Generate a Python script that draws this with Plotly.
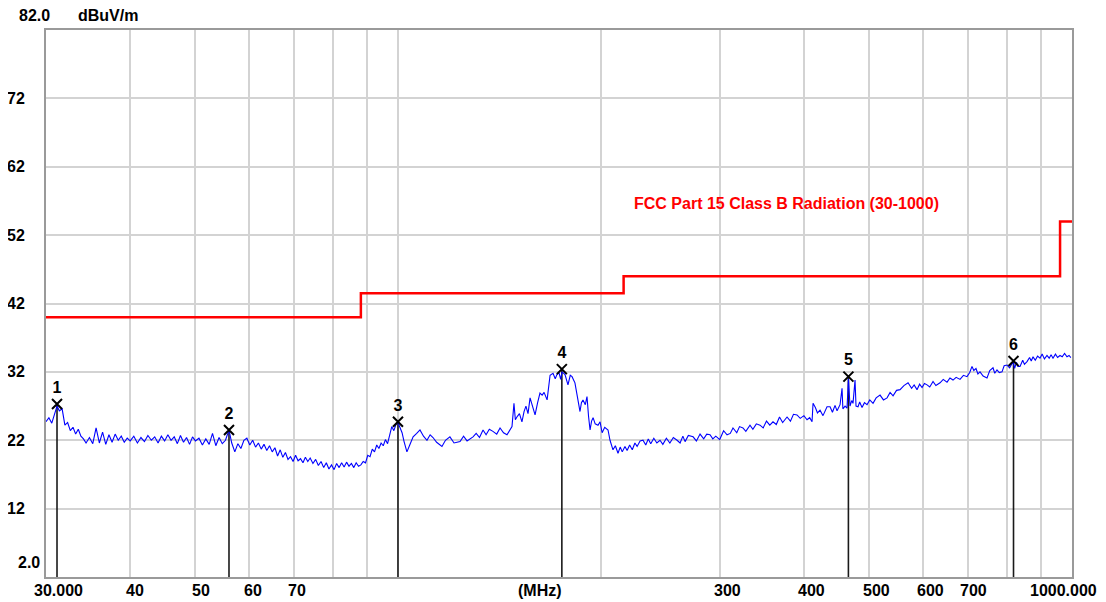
import math
import plotly.graph_objects as go

# ---------------- data ----------------
freq_mhz = [
    30.0, 30.3, 30.6, 30.9, 31.15, 31.4, 31.7, 32.0, 32.3, 32.6, 32.9, 33.2, 33.5, 33.8, 34.1, 34.4,
    34.8, 35.2, 35.6, 36.0, 36.4, 36.8, 37.2, 37.6, 38.0, 38.4, 38.8, 39.2, 39.6, 40.0, 40.5, 41.0,
    41.5, 42.0, 42.5, 43.0, 43.5, 44.0, 44.5, 45.0, 45.5, 46.0, 46.5, 47.0, 47.5, 48.0, 48.5, 49.0,
    49.5, 50.0, 50.6, 51.2, 51.8, 52.4, 53.0, 53.6, 54.2, 54.8, 55.4, 56.07,
    56.6, 57.2, 57.8, 58.4, 59.0, 59.6, 60.2, 60.8, 61.4, 62.0, 62.6, 63.2, 63.8, 64.4, 65.0, 65.6,
    66.2, 66.8, 67.4, 68.0, 68.6, 69.2, 69.8, 70.4, 71.0, 71.6, 72.2, 72.8, 73.4, 74.0, 74.7, 75.4,
    76.1, 76.8, 77.5, 78.2, 78.9, 79.6, 80.3, 81.0, 81.7, 82.4, 83.1, 83.8, 84.5, 85.2, 85.9, 86.6,
    87.3, 88.0, 88.7, 89.4, 90.1, 90.8, 91.5, 92.2, 92.9, 93.6, 94.3, 95.0, 95.7, 96.4, 97.1, 97.8,
    98.5, 99.2, 99.9,
    101.3, 102.0, 103.0, 104.0, 105.2, 106.5, 107.7, 109.0, 110.3, 111.5, 112.6, 114.0, 116.1, 117.5,
    119.3, 121.0, 123.5, 125.0, 126.5, 129.1, 130.5, 132.0, 133.6, 135.0, 136.5, 138.2, 140.0, 141.6,
    143.3, 145.0, 146.5, 147.5, 148.5, 149.2, 150.0, 151.3, 152.6, 153.7, 154.7, 155.8, 156.9, 158.2,
    159.6, 161.0, 162.3, 163.5, 164.6, 166.3, 168.0, 169.7, 171.0, 172.0, 173.2, 174.2, 175.0,
    176.8, 178.6, 180.0, 181.1, 182.9, 184.5, 186.1, 187.0, 188.0, 189.5, 190.6, 191.6, 192.6, 193.6,
    194.6, 196.0, 197.9, 199.3, 200.7, 202.5, 204.8, 206.2, 207.3, 208.3, 210.0, 211.9, 213.5, 215.0,
    217.0, 218.6, 220.5, 222.5, 224.5, 226.2, 228.5, 230.8, 233.0, 235.0, 237.0, 239.5, 242.0, 244.6,
    247.0, 250.0, 253.0, 256.0, 259.3, 262.0, 264.5, 266.5, 269.5, 273.9, 277.0, 280.5, 284.0, 287.0,
    290.2, 293.0, 296.0, 300.0, 304.0, 307.6, 311.0, 313.9, 318.0, 321.0, 324.8, 328.0, 332.7, 336.0,
    340.0, 344.3, 348.0, 352.0, 356.0, 359.9, 364.0, 368.0, 372.0, 377.6, 382.0, 386.0, 390.7, 395.0,
    400.0, 404.3, 408.0, 411.3, 412.7, 416.0, 419.0, 422.7, 427.0, 432.9, 437.4, 441.0, 444.9, 448.0,
    452.6, 455.7, 457.0, 460.4, 463.5,
    465.8, 468.3, 471.0, 473.1, 476.4, 478.0, 481.3, 484.0, 487.9, 492.0, 496.3, 501.0, 506.6, 512.0,
    518.9, 525.0, 531.5, 537.0, 542.5, 549.0, 555.6, 563.0, 571.0, 578.0, 583.0, 588.8, 594.0, 599.0,
    604.0, 609.3, 615.0, 621.9, 628.0, 637.0, 644.0, 652.4, 659.0, 665.9, 673.0, 682.0, 690.0, 698.5,
    705.0, 710.5, 715.0, 720.3, 725.0, 730.2, 738.0, 747.9, 755.0, 763.4, 768.0, 773.9, 780.0, 787.3,
    793.0, 800.8, 808.0, 817.5, 822.0, 827.0, 832.0, 837.2, 845.0, 850.0, 857.5, 865.0, 870.0, 875.3,
    882.0, 889.0, 896.4, 903.0, 910.0, 918.1, 925.0, 931.0, 937.1, 945.0, 952.0, 959.8, 967.0, 975.0,
    983.0, 990.0, 996.0,
]

level_dbuv = [
    24.7, 25.3, 24.5, 26.0, 27.0, 26.3, 26.6, 24.2, 24.6, 23.4, 23.9, 22.9, 23.6, 22.6, 22.2, 21.6,
    22.4, 21.5, 23.8, 21.6, 23.2, 21.4, 22.8, 21.7, 22.9, 22.0, 22.6, 21.7, 22.3, 21.9, 22.6, 21.6,
    22.4, 21.8, 22.7, 22.0, 22.5, 21.6, 22.6, 21.9, 22.8, 22.0, 22.5, 21.5, 22.7, 21.7, 22.4, 21.4,
    22.5, 21.9, 22.3, 21.3, 22.2, 21.4, 23.0, 21.2, 22.4, 21.5, 22.0, 23.5,
    21.6, 20.3, 21.5, 20.8, 22.0, 22.3, 21.3, 22.0, 21.0, 21.6, 20.7, 21.4, 20.5, 21.2, 20.3, 20.9,
    19.7, 20.6, 19.5, 20.2, 19.2, 19.6, 18.9, 19.8, 19.0, 19.3, 18.7, 19.5, 18.9, 19.4, 18.6, 19.2,
    18.3, 18.9, 18.0, 18.7, 17.8, 18.4, 17.7, 18.6, 18.0, 18.7, 18.1, 18.8, 18.2, 18.6, 18.0, 18.7,
    18.2, 18.4, 18.9, 18.7, 19.8, 19.6, 20.7, 20.3, 21.3, 20.8, 21.6, 21.2, 22.1, 21.5, 22.6, 24.0,
    23.4, 24.3, 24.6,
    23.1, 21.8, 20.3, 21.3, 22.5, 23.0, 23.5, 22.6, 22.0, 22.8, 22.4, 21.7, 21.1, 22.0,
    22.5, 21.6, 21.8, 22.6, 21.9, 22.5, 23.0, 22.4, 23.5, 22.8, 23.6, 23.3, 22.9, 23.8,
    23.1, 22.8, 23.6, 24.0, 27.4, 25.0, 25.4, 25.9, 24.7, 26.2, 27.0, 25.9, 28.2, 26.8,
    25.7, 27.5, 28.9, 28.6, 29.0, 27.9, 31.5, 31.8, 31.0, 31.6, 31.9, 30.9, 32.0,
    31.6, 30.1, 31.5, 31.3, 30.4, 28.0, 26.2, 27.5, 27.9, 27.2, 28.4, 25.5, 23.5, 24.8,
    25.3, 24.4, 24.2, 24.7, 23.1, 23.9, 23.5, 22.0, 21.3, 20.6, 21.2, 20.1, 21.0, 20.3,
    21.1, 20.5, 21.3, 20.6, 21.6, 21.1, 21.9, 22.0, 21.3, 22.2, 21.5, 22.3, 21.6, 22.0,
    21.4, 22.3, 21.6, 22.4, 22.0, 21.6, 22.6, 21.8, 22.7, 22.5, 21.9, 22.9, 22.2, 22.9,
    22.8, 22.2, 22.6, 22.1, 23.4, 22.8, 23.0, 23.8, 23.1, 24.0, 23.8, 23.3, 24.2, 23.6,
    24.4, 24.2, 23.8, 24.8, 24.2, 24.7, 24.3, 25.4, 24.6, 25.4, 24.8, 25.8, 25.7, 25.2,
    25.6, 25.0, 25.3, 24.7, 27.4, 26.8, 26.0, 26.4, 25.6, 26.9, 26.9, 26.1, 27.1, 26.3,
    27.2, 29.6, 26.6, 27.0, 26.7,
    31.0, 27.0, 27.8, 27.4, 30.8, 27.0, 26.9, 27.6, 26.8, 27.5, 27.2, 27.9, 27.4, 28.2,
    28.6, 27.9, 28.2, 29.0, 28.5, 29.3, 29.4, 30.0, 30.4, 29.6, 30.1, 29.4, 30.2, 29.7,
    30.3, 30.1, 29.8, 30.6, 30.0, 30.4, 30.9, 30.5, 31.1, 30.8, 31.2, 30.9, 31.5, 31.3,
    31.9, 32.8, 32.2, 32.5, 31.7, 32.0, 31.4, 31.1, 32.2, 32.6, 31.8, 32.3, 31.9, 32.0,
    32.9, 33.0, 32.6, 33.5, 32.5, 33.4, 32.8, 32.8, 33.7, 33.1, 33.5, 34.1, 33.6, 34.2,
    33.7, 34.3, 34.0, 34.6, 33.9, 34.4, 34.0, 34.5, 34.0, 34.6, 34.1, 34.4, 34.2, 34.7,
    34.2, 34.4, 34.1,
]

limit_freq = [30, 88, 216, 960, 1000]
limit_level = [40.0, 43.5, 46.0, 54.0, 54.0]
limit_name = "FCC Part 15 Class B Radiation (30-1000)"

marker_labels = ["1", "2", "3", "4", "5", "6"]
marker_freq = [31.15, 56.07, 99.9, 174.9, 465.7, 818.8]
marker_level = [27.3, 23.5, 24.7, 32.4, 31.3, 33.6]

y_grid = [12, 22, 32, 42, 52, 62, 72]
y_tick_text = ["12", "22", "32", "42", "52", "62", "72"]
x_grid = [40, 50, 60, 70, 80, 90, 100, 200, 300, 400, 500, 600, 700, 800, 900]
x_tick_text = ["30.000", "40", "50", "60", "70", "300", "400", "500", "600", "700", "1000.000"]
y_min, y_max = 2.0, 82.0
x_min, x_max = 30.0, 1000.0
unit_label = "dBuV/m"
axis_unit = "(MHz)"

# ---------------- figure ----------------
# page is 1106x602; the html body has an 8px default margin, so the
# figure is made 8px smaller and its margins reduced accordingly.
OFF = 8
W, H = 1106 - OFF, 602 - OFF
PL, PR, PT, PB = 46, 1072, 30, 577      # plot box in page pixels
L, T = PL - OFF, PT - OFF
R = (W + OFF) - PR
B = (H + OFF) - PB
PW = PR - PL
PH = PB - PT
FONT = "Liberation Sans, Arial, sans-serif"
FS = 16

fig = go.Figure()

# vertical marker drop lines
vx, vy = [], []
for f, v in zip(marker_freq, marker_level):
    vx += [f, f, None]
    vy += [v, y_min, None]
fig.add_trace(go.Scatter(x=vx, y=vy, mode="lines",
                         line=dict(color="#1a1a1a", width=1.6), hoverinfo="skip"))

# limit line
fig.add_trace(go.Scatter(x=limit_freq, y=limit_level, mode="lines", line_shape="hv",
                         line=dict(color="#ff0000", width=2.5), name=limit_name))

# measured trace
fig.add_trace(go.Scatter(x=freq_mhz, y=level_dbuv, mode="lines",
                         line=dict(color="#0000ff", width=1.1), name="trace"))

# markers
fig.add_trace(go.Scatter(x=marker_freq, y=marker_level, mode="markers+text",
                         text=marker_labels, textposition="top center",
                         textfont=dict(family=FONT, size=FS, color="black", weight="bold"),
                         marker=dict(symbol="x-thin", size=10, color="black",
                                     line=dict(color="black", width=2))))

fig.update_xaxes(type="log", range=[math.log10(x_min), math.log10(x_max)],
                 tickvals=x_grid, showticklabels=False, ticks="",
                 showgrid=True, gridcolor="#d3d3d3", gridwidth=1.5,
                 showline=True, linecolor="#9a9a9a", linewidth=2, mirror=True, zeroline=False)
fig.update_yaxes(range=[y_min, y_max], tickvals=y_grid, showticklabels=False, ticks="",
                 showgrid=True, gridcolor="#d3d3d3", gridwidth=1.5,
                 showline=True, linecolor="#9a9a9a", linewidth=2, mirror=True, zeroline=False)

def px_x(p):
    return (p - PL) / PW

def px_y(p):
    return (PB - p) / PH

ann = []
tf = dict(family=FONT, size=FS, color="black", weight="bold")
# y labels
for v, t in zip(y_grid, y_tick_text):
    ann.append(dict(xref="paper", yref="y", x=px_x(27), y=v, text=t, showarrow=False,
                    xanchor="right", yanchor="middle", font=tf))
ann.append(dict(xref="paper", yref="paper", x=px_x(42), y=px_y(562), text="2.0", showarrow=False,
                xanchor="right", yanchor="middle", font=tf))
ann.append(dict(xref="paper", yref="paper", x=px_x(52), y=px_y(15), text="82.0", showarrow=False,
                xanchor="right", yanchor="middle", font=tf))
ann.append(dict(xref="paper", yref="paper", x=px_x(76), y=px_y(15), text=unit_label, showarrow=False,
                xanchor="left", yanchor="middle", font=tf))
# x labels (slightly right of their grid lines, as in the reference)
x_label_px = [58, 135, 201, 253, 297, 727, 811, 876, 930, 973, 1063]
for px, t in zip(x_label_px, x_tick_text):
    ann.append(dict(xref="paper", yref="paper", x=px_x(px), y=px_y(590), text=t, showarrow=False,
                    xanchor="center", yanchor="middle", font=tf))
ann.append(dict(xref="paper", yref="paper", x=px_x(540), y=px_y(590), text=axis_unit, showarrow=False,
                xanchor="center", yanchor="middle", font=tf))
# limit line name
ann.append(dict(xref="paper", yref="paper", x=px_x(632), y=px_y(203), text=limit_name, showarrow=False,
                xanchor="left", yanchor="middle",
                font=dict(family=FONT, size=FS, color="#ff0000", weight="bold")))

fig.update_layout(width=W, height=H, margin=dict(l=L, r=R, t=T, b=B, pad=0),
                  paper_bgcolor="white", plot_bgcolor="white", showlegend=False,
                  annotations=ann)

fig.write_html("out.html")
